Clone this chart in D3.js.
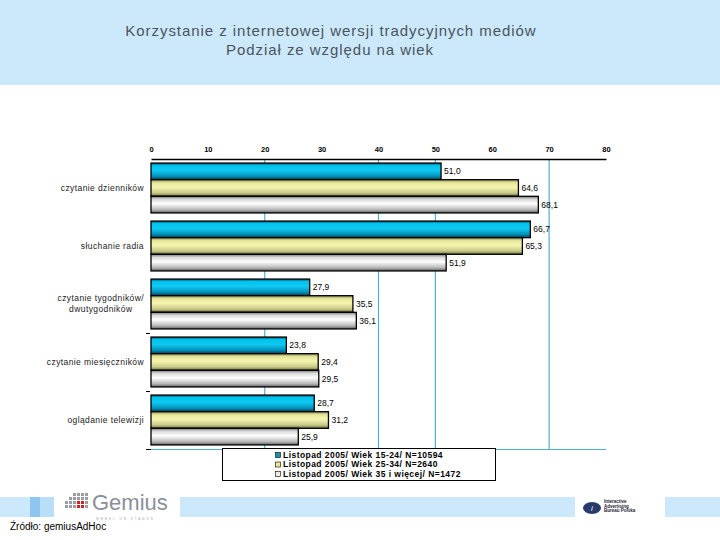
<!DOCTYPE html>
<html><head><meta charset="utf-8">
<script src="https://cdn.jsdelivr.net/npm/d3@7"></script>
<style>body{margin:0;background:#fff}svg{display:block}</style>
</head><body>
<script>
const categories = ["czytanie dzienników","słuchanie radia","czytanie tygodników/\ndwutygodników","czytanie miesięczników","oglądanie telewizji"];
const seriesNames = ["Listopad 2005/ Wiek 15-24/ N=10594","Listopad 2005/ Wiek 25-34/ N=2640","Listopad 2005/ Wiek 35 i więcej/ N=1472"];
const age1524 = [51.0, 66.7, 27.9, 23.8, 28.7];
const age2534 = [64.6, 65.3, 35.5, 29.4, 31.2];
const age35plus = [68.1, 51.9, 36.1, 29.5, 25.9];
const xTicks = [0,10,20,30,40,50,60,70,80];
const gridValues = [20,40,50,70];
const title1 = "Korzystanie z internetowej wersji tradycyjnych mediów";
const title2 = "Podział ze względu na wiek";

const W=720,H=540;
const FF="Liberation Sans, Arial, sans-serif";
const svg=d3.select("body").append("svg").attr("width",W).attr("height",H);
const defs=svg.append("defs");
const grads=[
  ["g0",[["0%","#004a66"],["15%","#00c4ee"],["45%","#10c8f0"],["80%","#0090b8"],["100%","#003c55"]]],
  ["g1",[["0%","#8c8c58"],["18%","#e6e69a"],["45%","#f6f6b0"],["80%","#c8c888"],["100%","#6a6a40"]]],
  ["g2",[["0%","#7a7a7a"],["18%","#d8d8d8"],["45%","#ffffff"],["80%","#b8b8b8"],["100%","#606060"]]]
];
grads.forEach(([id,stops])=>{
  const g=defs.append("linearGradient").attr("id",id).attr("x1",0).attr("y1",0).attr("x2",0).attr("y2",1);
  stops.forEach(s=>g.append("stop").attr("offset",s[0]).attr("stop-color",s[1]));
});
const legendColors=["#1b8fb0","#e8e890","#ececec"];

// header
svg.append("rect").attr("x",0).attr("y",0).attr("width",W).attr("height",85).attr("fill","#cce9fb");
svg.append("text").attr("x",331).attr("y",36).attr("text-anchor","middle").attr("font-family",FF).attr("font-size",15).attr("letter-spacing",0.95).attr("fill","#4a5460").text(title1);
svg.append("text").attr("x",330).attr("y",55).attr("text-anchor","middle").attr("font-family",FF).attr("font-size",15).attr("letter-spacing",0.95).attr("fill","#4a5460").text(title2);

// scales
const x=d3.scaleLinear().domain([0,80]).range([151,606]);
const y=d3.scaleBand().domain(categories).range([159,449]).paddingInner(0.14).paddingOuter(0.07);
const y2=d3.scaleBand().domain([0,1,2]).range([0,y.bandwidth()]);
const data=categories.map((c,i)=>({c,v:[age1524[i],age2534[i],age35plus[i]]}));

// grid
svg.selectAll(".grid").data(gridValues).join("line")
  .attr("x1",d=>x(d)).attr("x2",d=>x(d)).attr("y1",159).attr("y2",449)
  .attr("stroke","#4ab4cc").attr("stroke-width",1.2);
svg.append("line").attr("x1",x(0)).attr("x2",x(80)).attr("y1",449.5).attr("y2",449.5).attr("stroke","#4ab4cc").attr("stroke-width",1.2);
svg.append("line").attr("x1",146).attr("x2",151).attr("y1",449.5).attr("y2",449.5).attr("stroke","#000");
[3,4].forEach(k=>{
  const yy=y(categories[k])-y.step()*y.paddingInner()/2;
  svg.append("line").attr("x1",146).attr("x2",150).attr("y1",Math.round(yy)+0.5).attr("y2",Math.round(yy)+0.5).attr("stroke","#000");
});

// top axis
const ax=svg.append("g").attr("transform","translate(0,159)")
  .call(d3.axisTop(x).tickValues(xTicks).tickSize(0).tickPadding(7).tickFormat(d3.format("d")));
ax.select(".domain").attr("stroke","#000").attr("stroke-width",1.3);
ax.selectAll("text").attr("font-family",FF).attr("font-size",7.5).attr("font-weight","bold").attr("fill","#000");

// bars
const fmt=v=>v.toFixed(1).replace(".",",");
const gg=svg.selectAll(".grp").data(data).join("g").attr("transform",d=>`translate(0,${y(d.c)})`);
gg.selectAll("rect").data(d=>d.v.map((v,j)=>({v,j}))).join("rect")
  .attr("x",x(0)).attr("y",d=>y2(d.j)).attr("width",d=>x(d.v)-x(0)).attr("height",y2.bandwidth())
  .attr("fill",d=>`url(#g${d.j})`).attr("stroke","#000").attr("stroke-width",1.3);
gg.selectAll("text").data(d=>d.v.map((v,j)=>({v,j}))).join("text")
  .attr("x",d=>x(d.v)+3).attr("y",d=>y2(d.j)+y2.bandwidth()/2).attr("dy","0.35em")
  .attr("font-family",FF).attr("font-size",8.5).attr("fill","#000").text(d=>fmt(d.v));

// category labels
categories.forEach(c=>{
  const lines=c.split("\n");
  const cy=y(c)+y.bandwidth()/2;
  const lh=11;
  const t0=cy-(lines.length-1)*lh/2;
  const t1=svg.append("text").attr("x",144).attr("y",t0).attr("dy","0.35em").attr("text-anchor","end")
    .attr("font-family",FF).attr("font-size",8.5).attr("letter-spacing",0.4).attr("fill","#222").text(lines[0]);
  if(lines.length>1){
    const w=t1.node().getComputedTextLength();
    svg.append("text").attr("x",144-w/2).attr("y",t0+lh).attr("dy","0.35em").attr("text-anchor","middle")
      .attr("font-family",FF).attr("font-size",8.5).attr("letter-spacing",0.4).attr("fill","#222").text(lines[1]);
  }
});

// legend
svg.append("rect").attr("x",222.5).attr("y",448.5).attr("width",273).attr("height",32).attr("fill","#fff").attr("stroke","#000");
seriesNames.forEach((s,i)=>{
  const ly=455+i*9.5;
  svg.append("rect").attr("x",275.5).attr("y",ly-2.5).attr("width",5).attr("height",5).attr("fill",legendColors[i]).attr("stroke","#000").attr("stroke-width",0.6);
  svg.append("text").attr("x",283).attr("y",ly).attr("dy","0.35em").attr("font-family",FF)
    .attr("font-size",8.5).attr("font-weight","bold").attr("letter-spacing",0.45).attr("fill","#000").text(s);
});

// footer strips
const strip=(x0,w,c)=>svg.append("rect").attr("x",x0).attr("y",497).attr("width",w).attr("height",20).attr("fill",c);
strip(0,30,"#cce9fb"); strip(30,10,"#8fc6f0"); strip(40,14,"#b8def8");
strip(180,395,"#cce9fb"); strip(665,55,"#cce9fb");
// gemius logo
const lg=svg.append("g");
for(let r=0;r<4;r++)for(let c=0;c<6;c++){
  if(c+r<2)continue;
  lg.append("rect").attr("x",65+c*4).attr("y",493+r*4).attr("width",3).attr("height",3)
    .attr("fill",(r>=2&&c>=3&&c<=4)?"#d42020":"#9a9ea4");
}
lg.append("text").attr("x",92).attr("y",510).attr("font-family",FF).attr("font-size",22).attr("fill","#8a9098").text("Gemius");
lg.append("text").attr("x",96).attr("y",520).attr("font-family",FF).attr("font-size",3).attr("letter-spacing",2).attr("fill","#9a9ea4").text("WHEEL ON STANDS");
// iab logo
svg.append("ellipse").attr("cx",592).attr("cy",508).attr("rx",9).attr("ry",6).attr("fill","#2a3a6a");
svg.append("text").attr("x",592).attr("y",511).attr("text-anchor","middle").attr("font-family",FF).attr("font-size",8).attr("font-style","italic").attr("fill","#fff").text("i");
["Interactive","Advertising","Bureau Polska"].forEach((t,i)=>svg.append("text").attr("x",604).attr("y",503+i*4.5)
  .attr("font-family",FF).attr("font-size",4.5).attr("font-weight","bold").attr("fill","#223").text(t));
svg.append("text").attr("x",10).attr("y",530).attr("font-family",FF).attr("font-size",10).attr("fill","#000").text("Źródło: gemiusAdHoc");
</script>
</body></html>
